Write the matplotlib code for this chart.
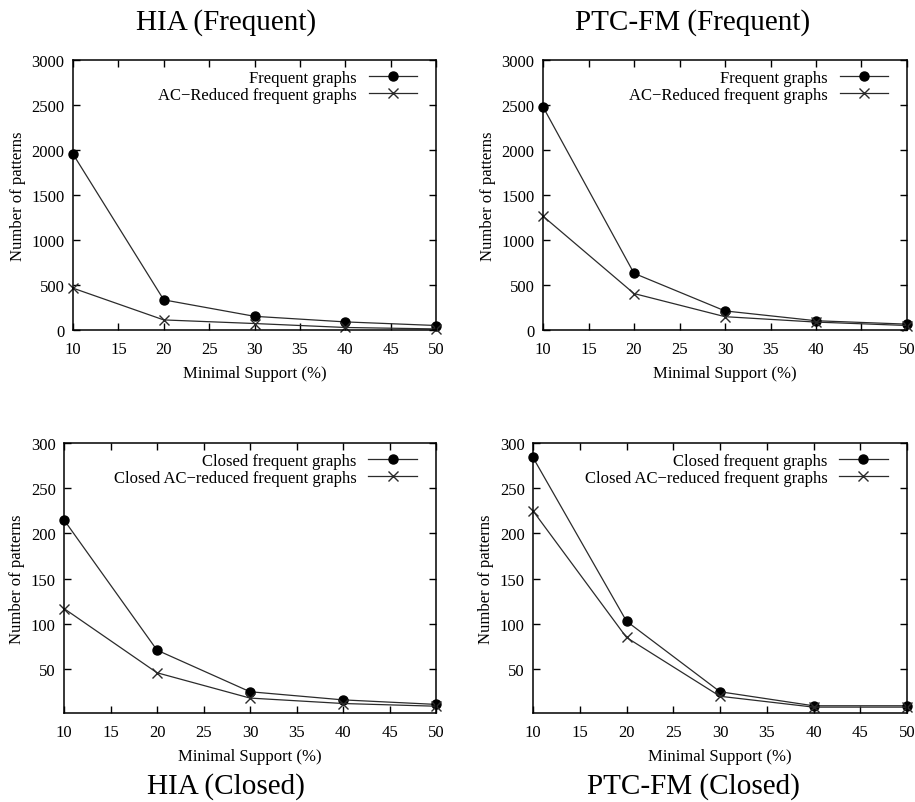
import matplotlib
matplotlib.use("Agg")
import matplotlib.pyplot as plt
from matplotlib import ticker

plt.rcParams["font.family"] = ["Liberation Serif", "DejaVu Serif"]

support = [10, 20, 30, 40, 50]

hia_frequent = [1955, 335, 152, 90, 50]
hia_ac_reduced = [465, 112, 72, 28, 12]
ptc_frequent = [2480, 630, 212, 103, 65]
ptc_ac_reduced = [1265, 405, 148, 88, 50]

hia_closed = [215, 71, 25, 16, 11]
hia_closed_ac = [117, 46, 18, 12, 9]
ptc_closed = [284, 103, 25, 9.5, 9.5]
ptc_closed_ac = [225, 85, 20, 8, 8]

line_color = "#2b2b2b"


def style_axes(ax, ymin, ymax, yticks):
    ax.set_xlim(10, 50)
    ax.set_ylim(ymin, ymax)
    ax.xaxis.set_major_locator(ticker.MultipleLocator(5))
    ax.set_yticks(yticks)
    ax.tick_params(direction="in", top=True, right=True, length=5, width=1,
                   labelsize=12, pad=6)
    ax.tick_params(axis="x", pad=8)
    for s in ax.spines.values():
        s.set_linewidth(1.1)
    ax.set_xlabel("Minimal Support (%)", fontsize=12, labelpad=6)
    ax.set_ylabel("Number of patterns", fontsize=12, labelpad=4)


def draw_panel(ax, full, reduced, label_full, label_reduced):
    ax.plot(support, full, color=line_color, lw=0.9, marker="o", ms=6.5,
            mfc="black", mec="black", label=label_full, clip_on=False)
    ax.plot(support, reduced, color=line_color, lw=0.9, marker="x", ms=7,
            mew=1.0, mec=line_color, label=label_reduced, clip_on=False)
    ax.legend(loc="upper right", frameon=False, markerfirst=False, fontsize=12,
              handlelength=2.9, handletextpad=0.7, labelspacing=0.05,
              borderaxespad=0.2, bbox_to_anchor=(0.975, 1.0))


fig = plt.figure(figsize=(9.15, 8.03), dpi=100)
W, H = 915, 803


def add_axes(left, top, right, bottom):
    return fig.add_axes([left / W, 1 - bottom / H, (right - left) / W, (bottom - top) / H])


ax1 = add_axes(73, 61, 436, 331)
ax2 = add_axes(543, 61, 907, 331)
ax3 = add_axes(64, 444, 436, 714)
ax4 = add_axes(533, 444, 907, 714)

draw_panel(ax1, hia_frequent, hia_ac_reduced, "Frequent graphs", "AC\u2212Reduced frequent graphs")
style_axes(ax1, 0, 3000, list(range(0, 3001, 500)))

draw_panel(ax2, ptc_frequent, ptc_ac_reduced, "Frequent graphs", "AC\u2212Reduced frequent graphs")
style_axes(ax2, 0, 3000, list(range(0, 3001, 500)))

draw_panel(ax3, hia_closed, hia_closed_ac, "Closed frequent graphs", "Closed AC\u2212reduced frequent graphs")
style_axes(ax3, 1.5, 300, list(range(50, 301, 50)))

draw_panel(ax4, ptc_closed, ptc_closed_ac, "Closed frequent graphs", "Closed AC\u2212reduced frequent graphs")
style_axes(ax4, 1.5, 300, list(range(50, 301, 50)))

fig.text(226 / W, 1 - 23 / H, "HIA (Frequent)", ha="center", va="center", fontsize=21)
fig.text(693 / W, 1 - 23 / H, "PTC-FM (Frequent)", ha="center", va="center", fontsize=21)
fig.text(226 / W, 1 - 787 / H, "HIA (Closed)", ha="center", va="center", fontsize=21)
fig.text(693 / W, 1 - 787 / H, "PTC-FM (Closed)", ha="center", va="center", fontsize=21)

fig.savefig("out.png", dpi=100)
